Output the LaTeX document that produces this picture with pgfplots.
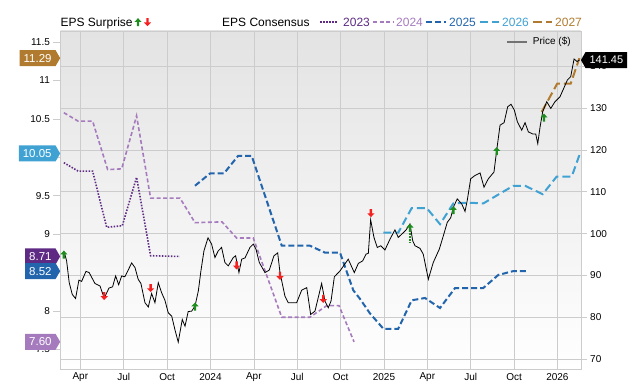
\documentclass[border=0pt]{standalone}
\usepackage{fontspec}
\setmainfont{Liberation Sans}
\usepackage{pgfplots}
\pgfplotsset{compat=1.18}
\usetikzlibrary{shapes.symbols}

\definecolor{cA}{HTML}{5E2A84}
\definecolor{cB}{HTML}{A57BBE}
\definecolor{cC}{HTML}{2265AD}
\definecolor{cD}{HTML}{3FA2D3}
\definecolor{cE}{HTML}{B07B2E}
\definecolor{egreen}{HTML}{1E8C1E}
\definecolor{ered}{HTML}{F52020}
\definecolor{gridc}{HTML}{CCCCCC}

\pgfdeclareplotmark{epsup}{%
  \pgfpathmoveto{\pgfqpoint{0pt}{4pt}}%
  \pgfpathlineto{\pgfqpoint{3.6pt}{0.2pt}}%
  \pgfpathlineto{\pgfqpoint{1.2pt}{0.2pt}}%
  \pgfpathlineto{\pgfqpoint{1.2pt}{-4pt}}%
  \pgfpathlineto{\pgfqpoint{-1.2pt}{-4pt}}%
  \pgfpathlineto{\pgfqpoint{-1.2pt}{0.2pt}}%
  \pgfpathlineto{\pgfqpoint{-3.6pt}{0.2pt}}%
  \pgfpathclose\pgfusepathqfill}
\pgfdeclareplotmark{epsdown}{%
  \pgfpathmoveto{\pgfqpoint{0pt}{-4pt}}%
  \pgfpathlineto{\pgfqpoint{3.6pt}{-0.2pt}}%
  \pgfpathlineto{\pgfqpoint{1.2pt}{-0.2pt}}%
  \pgfpathlineto{\pgfqpoint{1.2pt}{4pt}}%
  \pgfpathlineto{\pgfqpoint{-1.2pt}{4pt}}%
  \pgfpathlineto{\pgfqpoint{-1.2pt}{-0.2pt}}%
  \pgfpathlineto{\pgfqpoint{-3.6pt}{-0.2pt}}%
  \pgfpathclose\pgfusepathqfill}

\tikzset{tag/.style={shape=signal, signal pointer angle=120, text=white,
  font=\fontsize{11.5}{11.5}\selectfont, inner xsep=4pt, inner ysep=0pt,
  minimum height=16pt, draw=none},
  yr23/.style={cA, line width=1.6pt, dash pattern=on 1.5pt off 1.5pt},
  yr24/.style={cB, line width=1.6pt, dash pattern=on 4pt off 2.5pt},
  yr25/.style={cC, line width=2pt, dash pattern=on 6pt off 3pt},
  yr26/.style={cD, line width=2pt, dash pattern=on 8pt off 4pt},
  yr27/.style={cE, line width=2pt, dash pattern=on 9pt off 4pt}}

\pgfplotsset{
  mybase/.style={scale only axis, width=520.3pt, height=338.5pt,
    at={(0pt,0pt)}, anchor=south west, xmin=1.62, xmax=37.61, clip=false,
    set layers, /pgf/number format/assume math mode=true,
    tick label style={font=\fontsize{10}{12}\selectfont},
    axis line style={gridc}},
}

\begin{document}
\begin{tikzpicture}

% ---------- EPS consensus axis (left) ----------
\begin{axis}[mybase, ymin=7.24, ymax=11.643,
  xtick=\empty,
  ytick={7.5,8,8.5,9,9.5,10,10.5,11,11.5},
  yticklabels={7.5,8,8.5,9,9.5,10,10.5,11,11.5},
  ytick pos=left,
  tick align=outside, major tick length=7pt,
  ytick style={gridc, line width=0.6pt},
  yticklabel style={anchor=east}]
\addplot[yr23] coordinates {(1.86,9.93) (2.85,9.82) (3.85,9.82) (4.82,9.09) (5.90,9.11) (6.89,9.74) (7.86,8.72) (9.89,8.71)};
\addplot[yr24] coordinates {(1.86,10.58) (2.85,10.47) (3.85,10.47) (4.89,9.84) (5.86,9.85) (6.89,10.54) (7.86,9.47) (9.89,9.47) (10.93,9.15) (12.80,9.16) (13.81,8.95) (14.96,8.95) (16.93,7.92) (18.88,7.92) (20.04,8.07) (20.89,8.07) (21.93,7.60)};
\addplot[yr25] coordinates {(10.93,9.63) (11.97,9.79) (12.93,9.79) (13.92,10.02) (14.85,10.02) (16.93,8.85) (18.88,8.85) (19.92,8.76) (20.96,8.76) (21.88,8.27) (22.34,8.16) (23.03,7.97) (23.96,7.77) (24.99,7.77) (25.92,8.14) (26.84,8.17) (27.88,8.04) (28.92,8.30) (30.87,8.30) (31.91,8.47) (32.95,8.52) (33.88,8.52)};
\addplot[yr26] coordinates {(23.96,9.02) (24.99,9.02) (25.92,9.34) (26.96,9.34) (27.88,9.13) (28.80,9.40) (29.84,9.41) (30.87,9.40) (32.95,9.63) (33.76,9.63) (34.98,9.52) (35.95,9.75) (36.99,9.75) (37.56,10.05)};
\addplot[yr27] coordinates {(34.91,10.59) (35.99,10.96) (36.92,10.96) (37.52,11.29)};
% value tags on the left axis
\addplot[draw=none, mark=none, nodes near coords, point meta=explicit symbolic,
  every node near coord/.append style={tag, signal to=east, fill=cE, anchor=east}]
  coordinates {(1.62,11.29) [11.29]};
\addplot[draw=none, mark=none, nodes near coords, point meta=explicit symbolic,
  every node near coord/.append style={tag, signal to=east, fill=cD, anchor=east}]
  coordinates {(1.62,10.05) [10.05]};
\addplot[draw=none, mark=none, nodes near coords, point meta=explicit symbolic,
  every node near coord/.append style={tag, signal to=east, fill=cA, anchor=east}]
  coordinates {(1.62,8.71) [8.71]};
\addplot[draw=none, mark=none, nodes near coords, point meta=explicit symbolic,
  every node near coord/.append style={tag, signal to=east, fill=cC, anchor=east}]
  coordinates {(1.62,8.52) [8.52]};
\addplot[draw=none, mark=none, nodes near coords, point meta=explicit symbolic,
  every node near coord/.append style={tag, signal to=east, fill=cB, anchor=east}]
  coordinates {(1.62,7.60) [7.60]};
\end{axis}

% ---------- Price axis (right) ----------
\begin{axis}[mybase, ymin=67.56, ymax=148.39,
  axis background/.style={shade, top color=black!11, middle color=white, bottom color=white},
  xtick={3,6,...,36},
  xticklabels={Apr,Jul,Oct,2024,Apr,Jul,Oct,2025,Apr,Jul,Oct,2026},
  ytick={70,80,...,140},
  ytick pos=right, yticklabel pos=right, xtick pos=bottom,
  grid=major, grid style={gridc, line width=0.6pt},
  tick align=outside, major tick length=6pt,
  xtick style={draw=none}, ytick style={gridc, line width=0.6pt},
  yticklabel style={anchor=west},
  xticklabel style={yshift=6pt}]
\addplot[black, line width=0.8pt] coordinates {
(1.88,95.7) (2.05,93.5) (2.23,88.3) (2.44,85.5) (2.67,84.5) (2.90,88.9) (3.09,88.6) (3.39,91.0) (3.61,90.7) (4.01,88.1) (4.36,87.5) (4.65,84.6) (4.98,87.0) (5.23,87.3) (5.44,89.9) (5.65,87.8) (5.86,89.9) (6.08,89.7) (6.55,93.0) (6.78,91.9) (7.00,89.1) (7.19,88.1) (7.47,83.5) (7.70,82.5) (7.93,85.7) (8.16,83.5) (8.39,88.3) (8.62,85.9) (8.85,84.1) (9.08,81.1) (9.32,80.3) (9.54,77.1) (9.77,74.1) (10.05,79.5) (10.24,77.9) (10.46,81.4) (10.70,81.5) (10.93,82.7) (11.16,86.3) (11.34,91.1) (11.55,95.9) (11.83,99.0) (12.08,97.5) (12.31,94.3) (12.54,95.9) (12.77,96.7) (13.00,93.1) (13.23,92.3) (13.58,94.3) (13.74,94.7) (13.97,90.7) (14.16,93.9) (14.39,94.2) (14.73,96.7) (14.96,97.5) (15.15,96.3) (15.38,93.1) (15.77,90.7) (16.07,91.3) (16.39,94.7) (16.65,95.4) (16.81,90.7) (17.15,85.1) (17.38,83.5) (17.96,83.5) (18.31,86.5) (18.66,87.1) (18.93,80.7) (19.23,81.5) (19.69,88.1) (19.92,83.9) (20.15,82.3) (20.34,83.9) (20.57,89.7) (20.96,91.1) (21.53,93.9) (21.95,90.7) (22.23,92.9) (22.53,93.5) (22.76,95.1) (22.92,95.3) (23.08,103.3) (23.31,99.1) (23.54,96.7) (23.78,97.1) (24.07,96.1) (24.42,98.7) (24.76,100.9) (24.99,99.1) (25.30,100.1) (25.53,100.9) (25.80,102.3) (25.99,98.3) (26.15,97.1) (26.49,96.5) (26.72,95.1) (27.07,89.1) (27.41,93.1) (27.83,96.3) (28.11,99.5) (28.38,102.7) (28.62,103.8) (28.80,106.3) (29.07,108.3) (29.38,107.1) (29.61,105.3) (29.77,108.1) (30.00,113.1) (30.30,113.9) (30.65,114.5) (30.92,111.1) (31.22,113.1) (31.61,114.7) (31.80,119.9) (32.03,125.9) (32.31,126.5) (32.56,130.3) (32.79,130.9) (33.02,129.5) (33.23,126.7) (33.53,124.7) (33.76,126.5) (33.99,124.3) (34.29,123.8) (34.50,123.8) (34.64,121.5) (34.80,125.5) (34.98,129.1) (35.26,131.5) (35.54,129.9) (35.83,131.5) (36.18,132.7) (36.41,134.5) (36.69,136.7) (36.92,137.5) (37.15,141.7) (37.36,141.1) (37.52,141.45)};
% EPS surprise arrows
\addplot[egreen, dash pattern=on 2pt off 1.2pt, line width=1.6pt] coordinates {(25.80,100.2) (25.80,97.8)};
\addplot[egreen, only marks, mark=epsup] coordinates {(1.86,95.0) (10.93,82.6) (25.80,101.4) (28.80,105.6) (31.80,119.7) (35.07,127.7)};
\addplot[ered, only marks, mark=epsdown] coordinates {(4.65,85.1) (7.86,87.0) (13.81,92.4) (16.81,89.9) (19.80,84.4) (23.10,104.9)};
% price tag
\addplot[draw=none, mark=none, nodes near coords, point meta=explicit symbolic,
  every node near coord/.append style={tag, signal to=west, fill=black, anchor=west, font=\fontsize{11}{11}\selectfont}]
  coordinates {(37.61,141.45) [141.45]};
\end{axis}

% ---------- legend ----------
\begin{scope}[x=1pt,y=1pt]
\node[anchor=base west, inner sep=0pt, font=\fontsize{12}{12}\selectfont] at (0,343) {EPS Surprise};
\fill[egreen] (77.6,351.3) -- (81.2,347.5) -- (78.8,347.5) -- (78.8,343.3) -- (76.4,343.3) -- (76.4,347.5) -- (74.0,347.5) -- cycle;
\fill[ered] (87.1,343.3) -- (90.7,347.1) -- (88.3,347.1) -- (88.3,351.3) -- (85.9,351.3) -- (85.9,347.1) -- (83.5,347.1) -- cycle;
\node[anchor=base west, inner sep=0pt, font=\fontsize{12}{12}\selectfont] at (161.6,343) {EPS Consensus};
\draw[yr23] (259.6,347.3) -- (277.6,347.3);
\node[anchor=base west, inner sep=0pt, text=cA, font=\fontsize{12}{12}\selectfont] at (282.6,343) {2023};
\draw[yr24] (312.6,347.3) -- (332.6,347.3);
\node[anchor=base west, inner sep=0pt, text=cB, font=\fontsize{12}{12}\selectfont] at (335.6,343) {2024};
\draw[yr25] (365.6,347.3) -- (385.6,347.3);
\node[anchor=base west, inner sep=0pt, text=cC, font=\fontsize{12}{12}\selectfont] at (388.6,343) {2025};
\draw[yr26] (419.6,347.3) -- (438.6,347.3);
\node[anchor=base west, inner sep=0pt, text=cD, font=\fontsize{12}{12}\selectfont] at (441.6,343) {2026};
\draw[yr27] (472.6,347.3) -- (491.6,347.3);
\node[anchor=base west, inner sep=0pt, text=cE, font=\fontsize{12}{12}\selectfont] at (494.6,343) {2027};
\draw[black!55, line width=1.8pt] (446.6,327.8) -- (466.6,327.8);
\node[anchor=west, inner sep=0pt, font=\fontsize{10}{10}\selectfont] at (472.3,327.8) {Price (\$)};
\end{scope}
\pgfresetboundingbox
\path[use as bounding box] (-60.4pt,-12.5pt) rectangle (579.6pt,369.5pt);
\end{tikzpicture}
\end{document}
